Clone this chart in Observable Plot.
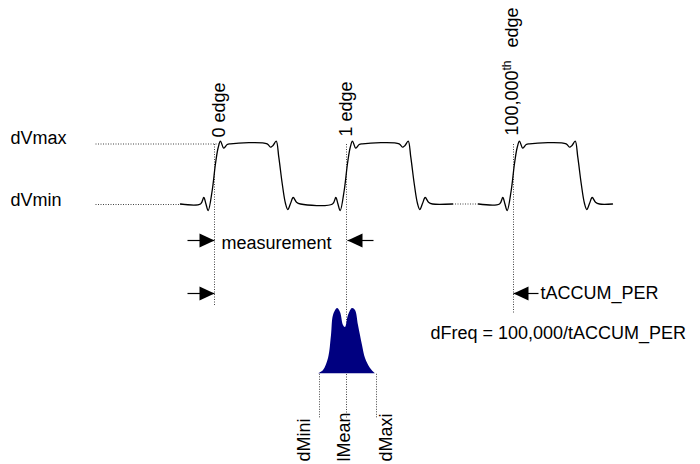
<!DOCTYPE html>
<html><head><meta charset="utf-8">
<script src="https://cdn.jsdelivr.net/npm/d3@7"></script>
<script src="https://cdn.jsdelivr.net/npm/@observablehq/plot@0.6"></script>
<style>body{margin:0;background:#fff} svg{display:block}</style>
</head><body><div id="chart"></div>
<script>
// ---- diagram data (time on x, level on y; y grows downward) ----
const edgeTimes = [214, 346, 513];
const edgeNames = ["0 edge", "1 edge", "100,000"];
const edgeSup = "th";
const edgeTail = "edge";
const levelNames = ["dVmax", "dVmin"];
const levelValues = [143.5, 203.5];
// one pulse, read as offsets from its rising edge
const pulseDt = [-14, -10.7, -8.7, -6.3, -2.3, 1, 3.7, 6, 9.3, 12.7, 16, 52.7, 56, 58.5, 61.7, 64.3, 67.7, 71, 73.3, 76, 78.7, 82, 86];
const pulseV  = [203.5, 197, 203, 210, 190, 163, 147, 140.7, 147.7, 144, 143.3, 143.3, 146.7, 145, 140.7, 156.7, 183, 203, 209, 203, 197, 201.7, 203.5];
const pulseSegment = [0, 0, 1];
const segmentStart = [180, 478];
const segmentEnd = [452, 612];
// histogram of measured edges
const histT = [318, 323, 328, 331, 333, 337, 340, 343, 345, 348, 352, 355, 358, 362, 365, 370, 375];
const histV = [373.3, 370, 358, 335, 315, 308, 312, 325, 327, 315, 308, 310, 325, 345, 358, 368, 373.3];
const histBase = 373.3;
const statNames = ["dMini", "lMean", "dMaxi"];
const statTimes = [319, 346, 376];
const statLabelTimes = [304, 344, 386];
const measureText = "measurement";
const accumText = "tACCUM_PER";
const freqText = "dFreq = 100,000/tACCUM_PER";

// ---- build tables ----
const wave = [];
edgeTimes.forEach((e, i) => {
  pulseDt.forEach((d, j) => wave.push({t: e + d, v: pulseV[j], seg: pulseSegment[i]}));
});
segmentStart.forEach((s, k) => wave.push({t: s, v: levelValues[1], seg: k}));
segmentEnd.forEach((s, k) => wave.push({t: s, v: levelValues[1], seg: k}));
wave.sort((a, b) => a.seg - b.seg || a.t - b.t);

const hist = histT.map((t, i) => ({t, v: histV[i]}));

const dotted = [
  // level reference lines
  {t1: 95, v1: levelValues[0], t2: 218, v2: levelValues[0]},
  {t1: 95, v1: levelValues[1] + 0.5, t2: 186, v2: levelValues[1] + 0.5},
  {t1: segmentEnd[0], v1: levelValues[1], t2: segmentStart[1], v2: levelValues[1]},
  // edge markers
  {t1: edgeTimes[0], v1: levelValues[0], t2: edgeTimes[0], v2: 305},
  {t1: edgeTimes[1], v1: levelValues[0], t2: edgeTimes[1], v2: 417},
  {t1: edgeTimes[2], v1: levelValues[0], t2: edgeTimes[2], v2: 312},
  // stats
  {t1: statTimes[0], v1: histBase, t2: statTimes[0], v2: 417},
  {t1: statTimes[2], v1: histBase, t2: statTimes[2], v2: 417}
];

const arrows = [
  {tip: edgeTimes[0], tail: 187, v: 240, rot: 0},
  {tip: edgeTimes[0], tail: 187, v: 293, rot: 0},
  {tip: edgeTimes[1] + 1, tail: 373, v: 240, rot: 180},
  {tip: edgeTimes[2], tail: 538, v: 293, rot: 180}
];

const headSymbol = {
  draw(ctx) {
    ctx.moveTo(0, 0);
    ctx.lineTo(-15, -7);
    ctx.lineTo(-15, 7);
    ctx.closePath();
  }
};

const FS = 18;
const font = "Liberation Sans, Arial, sans-serif";
const mid = FS * 0.32; // baseline offset for lineAnchor middle

const hTexts = [
  {t: 10, v: 143 - mid, s: levelNames[0]},
  {t: 10, v: 205 - mid, s: levelNames[1]},
  {t: 221, v: 248 - mid, s: measureText},
  {t: 540, v: 298 - mid, s: accumText},
  {t: 430, v: 338 - mid, s: freqText}
];

const vTexts = [
  {t: 219, v: 137, s: edgeNames[0]},
  {t: 346, v: 136, s: edgeNames[1]},
  {t: 512, v: 135, s: edgeNames[2]},
  {t: 512, v: 47, s: edgeTail},
  ...statNames.map((s, i) => ({t: statLabelTimes[i], v: 461, s}))
];

const chart = Plot.plot({
  width: 700,
  height: 464,
  margin: 0,
  x: {domain: [0, 700], axis: null},
  y: {domain: [464, 0], axis: null},
  style: {background: "#fff", overflow: "visible"},
  marks: [
    Plot.link(dotted, {x1: "t1", y1: "v1", x2: "t2", y2: "v2", stroke: "#444", strokeWidth: 1, strokeDasharray: "1,1.5"}),
    Plot.line(wave, {x: "t", y: "v", z: "seg", curve: "catmull-rom", stroke: "#000", strokeWidth: 1.3}),
    Plot.area(hist, {x1: "t", y1: () => histBase, y2: "v", curve: "catmull-rom", fill: "#000080"}),
    Plot.link(arrows, {x1: "tail", x2: "tip", y1: "v", y2: "v", stroke: "#000", strokeWidth: 1.2}),
    Plot.dot(arrows, {x: "tip", y: "v", rotate: "rot", symbol: headSymbol, r: 5, fill: "#000", stroke: "none"}),
    Plot.text(hTexts, {x: "t", y: "v", text: "s", textAnchor: "start", fontSize: FS, fontFamily: font, fill: "#000"}),
    Plot.text(vTexts, {x: "t", y: "v", text: "s", rotate: -90, textAnchor: "start", fontSize: FS, fontFamily: font, fill: "#000"}),
    Plot.text([{t: 507, v: 70, s: edgeSup}], {x: "t", y: "v", text: "s", rotate: -90, textAnchor: "start", fontSize: 12, fontFamily: font, fill: "#000"})
  ]
});
document.getElementById("chart").appendChild(chart);
</script>
</body></html>
